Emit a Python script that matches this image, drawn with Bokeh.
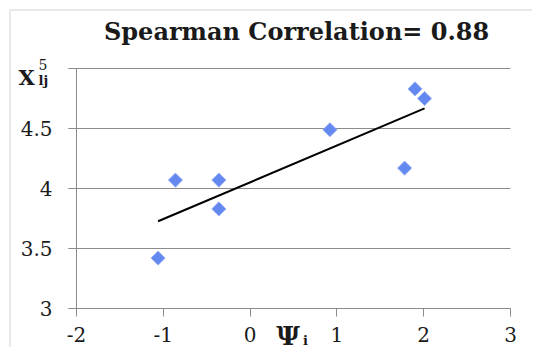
import numpy as np
from bokeh.plotting import figure
from bokeh.models import Label, Range1d, FixedTicker, BoxAnnotation
from bokeh.embed import file_html
from bokeh.resources import INLINE

# data
psi = [-1.06, -0.86, -0.36, -0.36, 0.92, 1.78, 1.90, 2.01]
xlj = [3.42, 4.07, 4.07, 3.83, 4.49, 4.17, 4.83, 4.75]
x_ticks = [-2, -1, 0, 1, 2, 3]
y_ticks = [3, 3.5, 4, 4.5, 5]
title_text = "Spearman Correlation= 0.88"

slope, intercept = np.polyfit(psi, xlj, 1)
trend_x = [min(psi), max(psi)]
trend_y = [slope * v + intercept for v in trend_x]

# layout (pixels): the plotting area spans x 76..510 and y 68..308
W, H = 532, 347
L, R, T, B = 76, 510, 68, 308
xmin, xmax = x_ticks[0], x_ticks[-1]
ymin, ymax = y_ticks[0], y_ticks[-1]
sx = (R - L) / (xmax - xmin)
sy = (B - T) / (ymax - ymin)
x_range = Range1d(xmin - L / sx, xmax + (W - R) / sx)
y_range = Range1d(ymin - (H - B) / sy, ymax + T / sy)

p = figure(width=W, height=H, min_border=0,
           x_range=x_range, y_range=y_range,
           output_backend="svg", toolbar_location=None)
p.outline_line_color = None
p.background_fill_color = "white"
p.border_fill_color = "white"

serif = "DejaVu Serif"
ink = "#1a1a1a"

p.xgrid.visible = False
p.ygrid.grid_line_color = "#8c8c8c"
p.ygrid.grid_line_width = 1
p.ygrid.ticker = FixedTicker(ticks=y_ticks)
p.ygrid.cross_bounds = (xmin - 8 / sx, xmax)

for ax in (p.xaxis, p.yaxis):
    ax.axis_line_color = "#8c8c8c"
    ax.major_tick_line_color = "#8c8c8c"
    ax.minor_tick_line_color = None
    ax.major_tick_out = 8
    ax.major_tick_in = 0
    ax.major_label_text_color = ink
    ax.major_label_text_font = serif
    ax.major_label_text_font_size = "20px"

p.xaxis.fixed_location = ymin
p.xaxis.bounds = (xmin, xmax)
p.yaxis.fixed_location = xmin
p.yaxis.bounds = (ymin, ymax)

p.xaxis.ticker = FixedTicker(ticks=x_ticks)
p.yaxis.ticker = FixedTicker(ticks=y_ticks)
p.xaxis.major_label_overrides = {-2: "-2", -1: "-1"}
p.yaxis.major_label_overrides = {5: ""}
p.xaxis.major_label_standoff = 10
p.yaxis.major_label_standoff = 16

# outer chart border (top and left edges visible)
p.add_layout(BoxAnnotation(left=xmin - (L - 9.5) / sx, top=ymax + (T - 9.5) / sy,
                           right=xmax + 1, bottom=ymin - 1,
                           fill_color=None, line_color="#9a9a9a", line_width=1.5))

p.line(trend_x, trend_y, line_color="black", line_width=2)
p.scatter(psi, xlj, marker="square", angle=np.pi / 4, size=10,
          fill_color="#6389f0", line_color="#9ab0f5", line_width=1)

p.add_layout(Label(x=0.536, y=ymax, y_offset=37, text=title_text,
                   text_font=serif, text_font_style="bold",
                   text_font_size="24px", text_align="center",
                   text_baseline="alphabetic", text_color=ink))

# y-axis label X^5_lj at the top tick
p.add_layout(Label(x=xmin, y=ymax, x_offset=-58, y_offset=-9, text="X",
                   text_font=serif, text_font_style="bold",
                   text_font_size="21px", text_align="left",
                   text_baseline="alphabetic", text_color=ink))
p.add_layout(Label(x=xmin, y=ymax, x_offset=-38, y_offset=4, text="5",
                   text_font=serif,
                   text_font_size="14px", text_align="left",
                   text_baseline="alphabetic", text_color=ink))
p.add_layout(Label(x=xmin, y=ymax, x_offset=-38, y_offset=-12, text="lj",
                   text_font=serif, text_font_style="bold",
                   text_font_size="13px", text_align="left",
                   text_baseline="alphabetic", text_color=ink))

# x-axis label Psi_i
p.add_layout(Label(x=0.30, y=ymin, y_offset=-27, text="Ψ",
                   text_font=serif, text_font_style="bold",
                   text_font_size="26px", text_align="left",
                   text_baseline="alphabetic", text_color=ink))
p.add_layout(Label(x=0.61, y=ymin, y_offset=-32, text="i",
                   text_font=serif, text_font_style="bold",
                   text_font_size="13px", text_align="left",
                   text_baseline="alphabetic", text_color=ink))

open("out.html", "w").write(file_html(p, INLINE))
